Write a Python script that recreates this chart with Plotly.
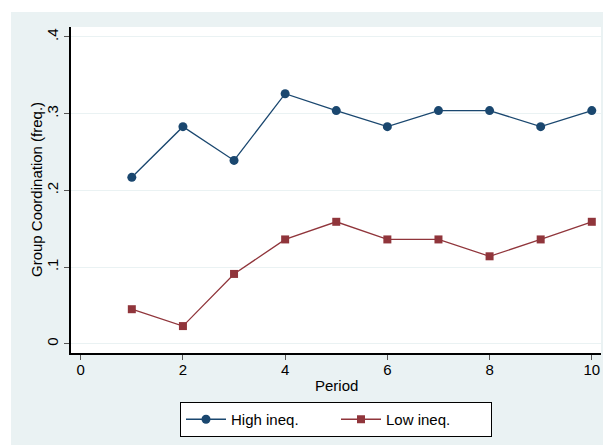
import plotly.graph_objects as go

periods = [1, 2, 3, 4, 5, 6, 7, 8, 9, 10]
high_ineq = [0.217, 0.283, 0.239, 0.326, 0.304, 0.283, 0.304, 0.304, 0.283, 0.304]
low_ineq = [0.045, 0.023, 0.091, 0.136, 0.159, 0.136, 0.136, 0.114, 0.136, 0.159]
y_tickvals = [0, 0.1, 0.2, 0.3, 0.4]
y_ticktext = ["0", ".1", ".2", ".3", ".4"]
x_tickvals = [0, 2, 4, 6, 8, 10]

NAVY = "#1A476F"
MAROON = "#90353B"
BG = "#EAF2F3"
FONT = "Liberation Sans, Arial, sans-serif"

fig = go.Figure()
fig.add_trace(go.Scatter(x=periods, y=high_ineq, mode="lines+markers", name="High ineq.",
                         line=dict(color=NAVY, width=1.3),
                         marker=dict(symbol="circle", size=9, color=NAVY)))
fig.add_trace(go.Scatter(x=periods, y=low_ineq, mode="lines+markers", name="Low ineq.",
                         line=dict(color=MAROON, width=1.3),
                         marker=dict(symbol="square", size=8, color=MAROON)))

L, R, T, B = 71, 2, 27, 92
W, H = 603, 445
pw, ph = W - L - R, H - T - B

def px(xp):
    return (xp - L) / pw

def py(yp):
    return (H - B - yp) / ph

# white strips outside the grey graph region (top and left)
fig.add_shape(type="rect", xref="paper", yref="paper", x0=px(-5), x1=px(W + 5), y0=py(12), y1=py(-5),
              fillcolor="white", line_width=0, layer="below")
fig.add_shape(type="rect", xref="paper", yref="paper", x0=px(-5), x1=px(11), y0=py(H + 5), y1=py(-5),
              fillcolor="white", line_width=0, layer="below")

# axis titles
fig.add_annotation(text="Period", xref="paper", yref="paper", x=px(336), y=py(385),
                   xanchor="center", yanchor="middle", showarrow=False, font=dict(size=15))
fig.add_annotation(text="Group Coordination (freq.)", xref="paper", yref="paper", x=px(36), y=py(190),
                   xanchor="center", yanchor="middle", textangle=-90, showarrow=False, font=dict(size=15))

fig.update_layout(
    width=W, height=H,
    margin=dict(l=L, r=R, t=T, b=B, pad=0),
    paper_bgcolor=BG, plot_bgcolor="white",
    font=dict(family=FONT, size=15, color="black"),
    showlegend=True,
    legend=dict(orientation="h", x=0.5, xanchor="center", y=py(402), yanchor="top",
                bgcolor="white", bordercolor="black", borderwidth=1,
                font=dict(size=15), entrywidth=100, itemwidth=40, tracegroupgap=0),
    xaxis=dict(range=[-0.19, 10.18], tickvals=x_tickvals, ticks="outside", ticklen=5,
               tickcolor="#555555", showline=True, linecolor="black", linewidth=1.5,
               showgrid=False, zeroline=False, ticklabelstandoff=-3),
    yaxis=dict(range=[-0.0121, 0.413], tickvals=y_tickvals, ticktext=y_ticktext,
               tickangle=-90, ticks="outside", ticklen=5, tickcolor="#555555",
               showline=True, linecolor="black", linewidth=1.5,
               showgrid=True, gridcolor=BG, gridwidth=1, zeroline=False),
)

fig.write_html("out.html", config={"displayModeBar": False},
               post_script="document.body.style.margin='0px';document.body.style.padding='0px';")
